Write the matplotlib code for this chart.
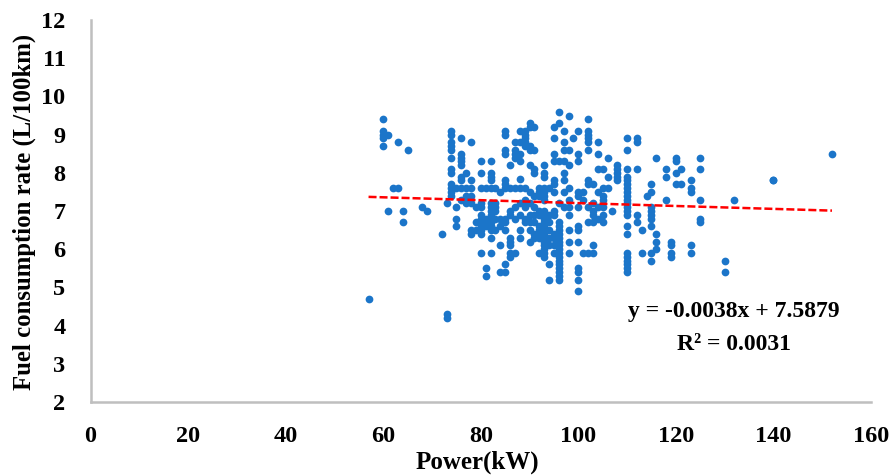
import matplotlib
matplotlib.use('Agg')
import matplotlib.pyplot as plt

power_columns = [57, 60, 61, 62, 63, 64, 65, 68, 69, 72, 73, 74, 75, 76, 77, 78, 79, 80, 81, 82, 83, 84, 85, 86, 87,
                 88, 89, 90, 91, 92, 93, 94, 95, 96, 97, 98, 99, 100, 101, 102, 103, 104, 105, 106, 107, 108,
                 110, 112, 113, 114, 115, 116, 118, 119, 120, 121, 123, 125, 130, 132, 140, 152]
fuel_columns = [
    [4.7],
    [9.4, 9.1, 9.0, 8.9, 8.7],
    [9.0, 7.0],
    [7.6],
    [8.8, 7.6],
    [7.0, 6.7],
    [8.6],
    [7.1],
    [7.0],
    [6.4],
    [7.2, 4.3, 4.2],
    [9.1, 9.0, 8.8, 8.7, 8.6, 8.4, 8.1, 8.0, 7.7, 7.6, 7.5, 7.4],
    [7.6, 7.1, 6.8, 6.6],
    [8.9, 8.5, 8.4, 8.3, 8.2, 7.9, 7.8, 7.6, 7.3],
    [8.0, 7.6, 7.4, 7.2],
    [8.8, 7.8, 7.6, 7.4, 7.2, 6.5, 6.4],
    [7.1, 6.7, 6.5],
    [8.3, 8.0, 7.6, 7.2, 7.1, 6.9, 6.8, 6.7, 6.6, 6.5, 6.4, 5.9],
    [7.6, 6.8, 6.6, 5.5, 5.3],
    [8.3, 8.0, 7.9, 7.8, 7.6, 7.2, 7.1, 7.0, 6.9, 6.7, 6.6, 6.5, 6.3, 5.9],
    [7.6, 7.2, 7.1, 7.0, 6.8, 6.5],
    [7.5, 6.8, 6.6, 6.1, 5.4],
    [9.1, 9.0, 8.6, 8.5, 7.8, 7.7, 7.6, 6.8, 6.7, 6.5, 5.6, 5.4],
    [8.2, 7.6, 7.0, 6.9, 6.3, 6.2, 6.1, 5.9, 5.8],
    [8.8, 8.6, 8.5, 8.4, 7.6, 7.1, 6.8, 5.9],
    [9.1, 8.8, 8.5, 8.3, 7.85, 7.6, 7.2, 6.9, 6.5, 6.3],
    [9.1, 9.0, 8.9, 8.8, 8.7, 7.6, 7.3, 7.1, 6.8, 6.7],
    [9.3, 9.2, 8.7, 8.6, 8.2, 7.5, 7.2, 6.9, 6.7, 6.5, 6.2],
    [9.2, 8.6, 8.1, 8.0, 7.4, 7.1, 6.9, 6.7, 6.4, 6.3],
    [7.6, 7.5, 7.4, 7.0, 6.9, 6.6, 6.5, 6.4, 6.3, 5.9],
    [8.2, 8.0, 7.9, 7.6, 7.5, 7.4, 7.3, 7.0, 6.9, 6.8, 6.7, 6.6, 6.5, 6.4, 6.3, 6.2, 6.1, 6.0, 5.9, 5.8],
    [7.6, 6.9, 6.7, 6.5, 6.3, 6.1, 5.6, 5.2],
    [9.2, 8.9, 8.5, 8.3, 7.8, 7.7, 7.5, 7.0, 6.9, 6.4, 6.3, 6.1, 5.9],
    [9.6, 9.3, 8.3, 7.2, 6.7, 6.6, 6.5, 6.4, 6.3, 6.2, 6.1, 6.0, 5.9, 5.8, 5.7, 5.6, 5.5, 5.4, 5.3, 5.2],
    [9.1, 8.8, 8.6, 8.3, 8.0, 7.8, 7.5, 7.1],
    [9.5, 8.6, 8.2, 7.6, 7.3, 7.1, 6.9, 6.5, 6.2, 5.9],
    [8.9],
    [9.1, 8.5, 8.3, 7.5, 7.4, 7.1, 6.6, 6.5, 6.2, 5.5, 5.4, 5.2, 4.9],
    [7.5, 7.3, 5.9],
    [9.4, 9.1, 9.0, 8.9, 8.8, 8.6, 7.8, 7.7, 7.1, 6.7, 5.9],
    [7.7, 7.2, 7.0, 6.9, 6.7, 6.1, 5.9],
    [8.8, 8.5, 8.1, 7.5, 7.1, 6.8],
    [8.1, 7.6, 7.4, 7.3, 7.1, 6.9, 6.7],
    [8.4, 7.9, 7.6],
    [7.0],
    [8.2, 8.1, 8.0, 7.9, 7.8],
    [8.9, 8.6, 8.1, 7.9, 7.8, 7.7, 7.6, 7.5, 7.4, 7.3, 7.2, 7.1, 7.0, 6.9, 6.6,
     6.4, 5.9, 5.8, 5.7, 5.6, 5.5, 5.4],
    [8.9, 8.8, 8.1, 6.9, 6.7],
    [6.5, 5.9],
    [7.4],
    [7.7, 7.5, 7.1, 7.0, 6.9, 6.8, 6.6, 5.9, 5.7],
    [8.4, 6.4, 6.2, 6.0],
    [8.1, 7.9, 7.3],
    [6.2, 6.1, 5.9, 5.8],
    [8.4, 8.3, 8.0, 7.7],
    [8.1, 7.7],
    [7.8, 7.6, 7.5, 6.1, 5.9],
    [8.4, 8.1, 7.3, 6.8, 6.7],
    [5.7, 5.4],
    [7.3],
    [7.8, 7.8],
    [8.5],
]
trend_power = [57, 152]
trend_fuel = [7.37, 7.01]
x_ticks = [0, 20, 40, 60, 80, 100, 120, 140, 160]
y_ticks = [2, 3, 4, 5, 6, 7, 8, 9, 10, 11, 12]

plt.rcParams['font.family'] = ['Liberation Serif', 'DejaVu Serif']
plt.rcParams['font.weight'] = 'bold'

fig = plt.figure(figsize=(8.91, 4.75), dpi=100)
ax = fig.add_axes([90.5 / 891, 1 - 402 / 475, 780.5 / 891, 382 / 475])

for power, fuels in zip(power_columns, fuel_columns):
    ax.scatter([power] * len(fuels), fuels, s=31, color='#1b75c9', linewidths=0, zorder=2)

ax.plot(trend_power, trend_fuel, color='#ff0000', linestyle='--', linewidth=1.8, dashes=(3.2, 1.2), zorder=3)

ax.set_xlim(0, 160)
ax.set_ylim(2, 12)
ax.set_xticks(x_ticks)
ax.set_yticks(y_ticks)
ax.tick_params(length=0, labelsize=17.5)
ax.tick_params(axis='x', pad=17)
ax.tick_params(axis='y', pad=18)
for side in ['top', 'right']:
    ax.spines[side].set_visible(False)
for side in ['left', 'bottom']:
    ax.spines[side].set_color('#bfbfbf')
    ax.spines[side].set_linewidth(1.8)

fig.text(477 / 891, 1 - 462 / 475, 'Power(kW)', ha='center', va='center', fontsize=18, fontweight='bold')
fig.text(24 / 891, 1 - 212 / 475, 'Fuel consumption rate (L/100km)', rotation=90, ha='center', va='center',
         fontsize=17.8, fontweight='bold')
fig.text(734 / 891, 1 - 311 / 475, 'y = -0.0038x + 7.5879', ha='center', va='center', fontsize=17, fontweight='bold')
fig.text(734 / 891, 1 - 344 / 475, 'R² = 0.0031', ha='center', va='center', fontsize=17, fontweight='bold')

fig.savefig('out.png', dpi=100)
plt.close(fig)
